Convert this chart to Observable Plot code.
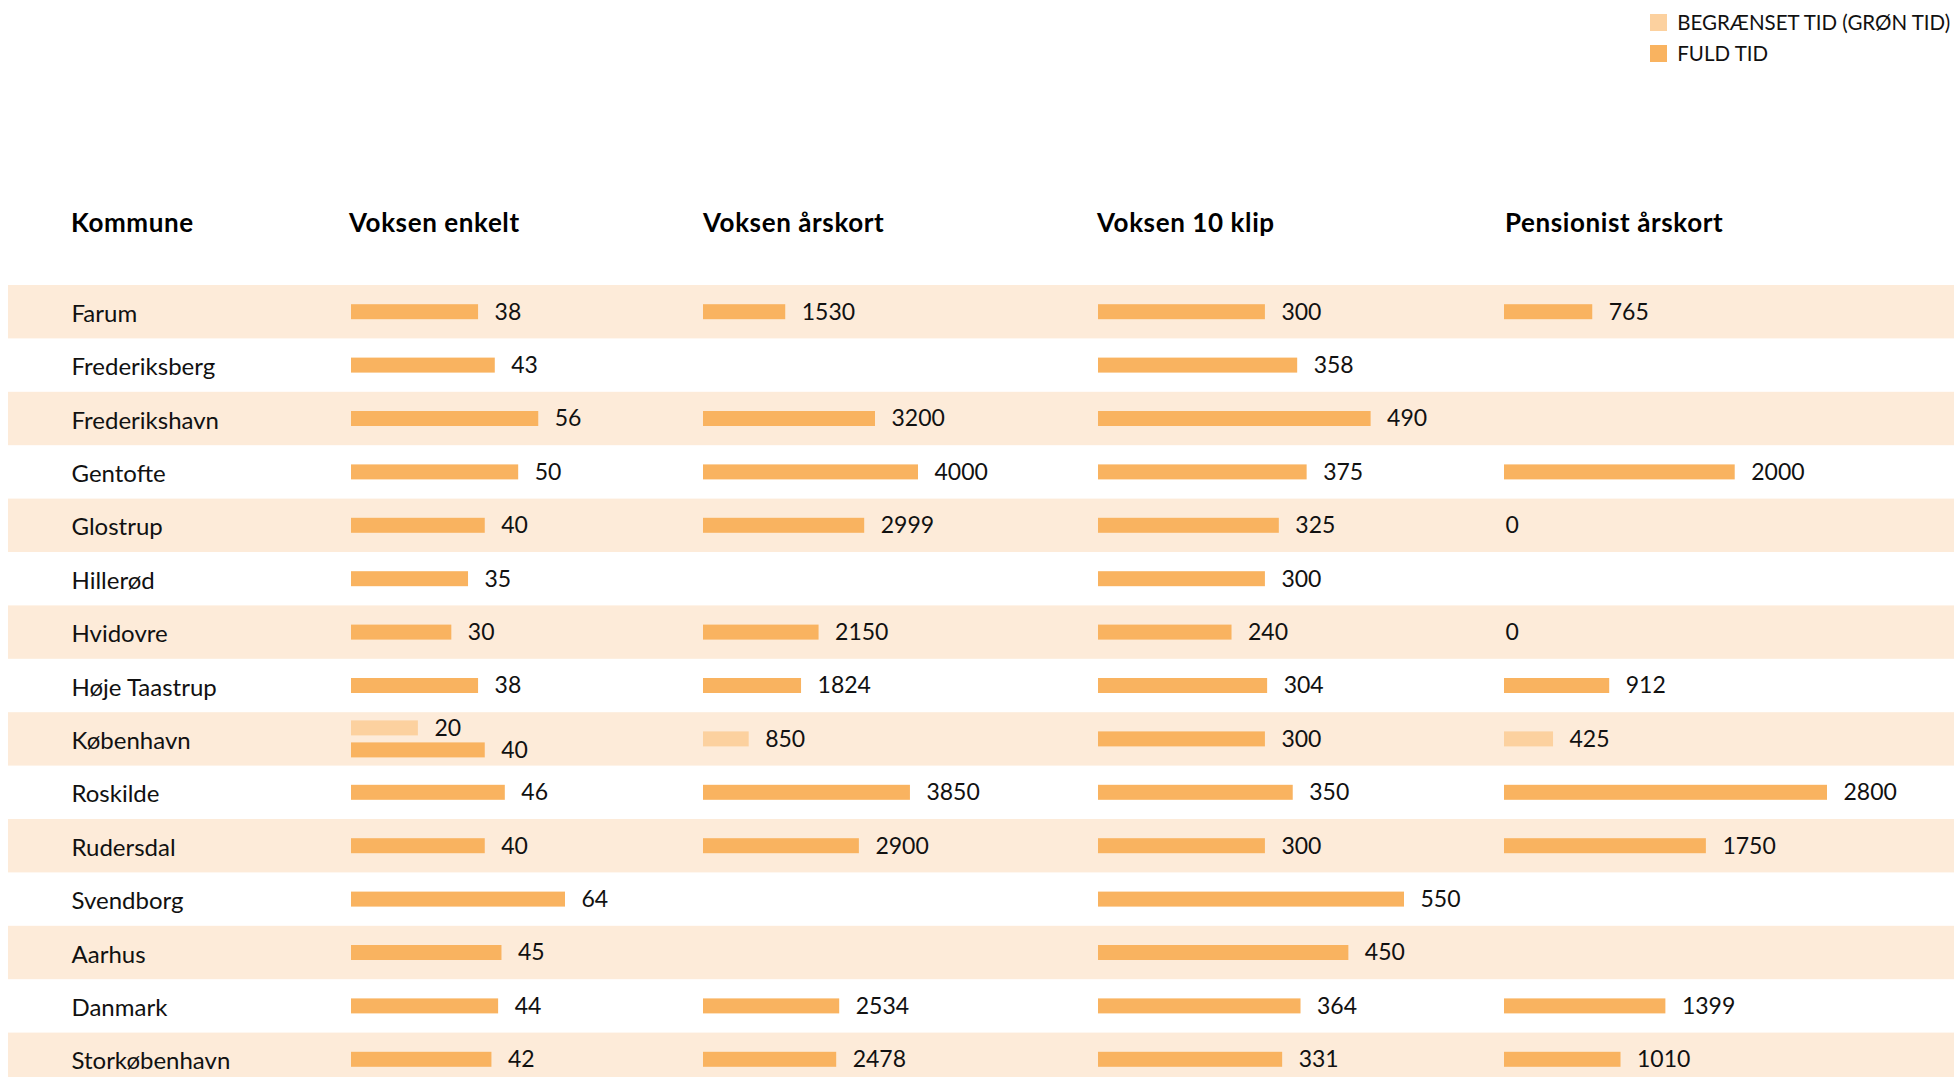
<!DOCTYPE html>
<html><head><meta charset="utf-8">
<script src="https://cdn.jsdelivr.net/npm/d3@7"></script>
<script src="https://cdn.jsdelivr.net/npm/@observablehq/plot@0.6"></script>
<style>
body{margin:0;background:#fff;font-family:Lato,"Open Sans",sans-serif;color:#111}
#root{position:relative;width:1957px;height:1077px;overflow:hidden;background:#fff}
.abs{position:absolute}
.hdr{position:absolute;top:207px;font-weight:700;font-size:26px;line-height:30px;letter-spacing:0.6px;white-space:nowrap;color:#000}
.lg-swatches{font-family:Lato,sans-serif;font-size:20.5px;color:#111}
.lg-swatch{margin-bottom:6px}
</style></head><body><div id="root"></div>
<script>
const kommuner = ["Farum","Frederiksberg","Frederikshavn","Gentofte","Glostrup","Hillerød","Hvidovre","Høje Taastrup","København","Roskilde","Rudersdal","Svendborg","Aarhus","Danmark","Storkøbenhavn"];
const kolonner = ["Voksen enkelt","Voksen årskort","Voksen 10 klip","Pensionist årskort"];
const typer = ["BEGRÆNSET TID (GRØN TID)","FULD TID"];
const farver = ["#FCD19F","#F9B360"];
const baandFarve = "#FDEBD9";

// FULD TID values per column (null = no value)
const voksenEnkeltFuld   = [38,43,56,50,40,35,30,38,40,46,40,64,45,44,42];
const voksenAarskortFuld = [1530,null,3200,4000,2999,null,2150,1824,null,3850,2900,null,null,2534,2478];
const voksen10KlipFuld   = [300,358,490,375,325,300,240,304,300,350,300,550,450,364,331];
const pensionistFuld     = [765,null,null,2000,0,null,0,912,null,2800,1750,null,null,1399,1010];
// BEGRÆNSET TID values per column
const voksenEnkeltBegr   = [null,null,null,null,null,null,null,null,20,null,null,null,null,null,null];
const voksenAarskortBegr = [null,null,null,null,null,null,null,null,850,null,null,null,null,null,null];
const voksen10KlipBegr   = [null,null,null,null,null,null,null,null,null,null,null,null,null,null,null];
const pensionistBegr     = [null,null,null,null,null,null,null,null,425,null,null,null,null,null,null];

const fuld = [voksenEnkeltFuld, voksenAarskortFuld, voksen10KlipFuld, pensionistFuld];
const begr = [voksenEnkeltBegr, voksenAarskortBegr, voksen10KlipBegr, pensionistBegr];

// layout (pixels)
const colLeft = [351, 703, 1098, 1504];
const colMaxBar = [214, 215, 306, 323];
const headerLeft = [349, 703, 1097, 1505];
const rowTop = 285, rowH = 53.4;
const barH = 15;
const inset = (rowH - barH) / 2;
const font = "Lato, 'Open Sans', sans-serif";

const data = [];
kolonner.forEach((k, ci) => {
  kommuner.forEach((m, i) => {
    const vals = [[typer[0], begr[ci][i]], [typer[1], fuld[ci][i]]].filter(v => v[1] != null);
    vals.forEach(([t, v]) => data.push({kommune: m, kolonne: k, type: t, value: v, n: vals.length}));
  });
});

const root = document.getElementById("root");

// background bands + kommune labels
const bg = Plot.plot({
  width: 1957, height: rowH * kommuner.length,
  marginLeft: 8, marginRight: 3, marginTop: 0, marginBottom: 0,
  x: {domain: [0, 1], axis: null},
  y: {domain: kommuner, padding: 0, round: false, axis: null},
  style: {background: "transparent"},
  marks: [
    Plot.barX(kommuner.filter((d, i) => i % 2 === 0), {y: d => d, x1: 0, x2: 1, fill: baandFarve}),
    Plot.text(kommuner, {y: d => d, frameAnchor: "left", dx: 63, dy: 2, textAnchor: "start", text: d => d, fontSize: 24, fontFamily: font, fill: "#111"})
  ]
});
bg.classList.add("abs"); bg.style.left = "0px"; bg.style.top = rowTop + "px";
root.appendChild(bg);

// headers
const hk = document.createElement("div"); hk.className = "hdr"; hk.style.left = "71px"; hk.textContent = "Kommune"; root.appendChild(hk);
kolonner.forEach((k, ci) => {
  const h = document.createElement("div"); h.className = "hdr"; h.style.left = headerLeft[ci] + "px"; h.textContent = k; root.appendChild(h);
});

// column plots
kolonner.forEach((k, ci) => {
  const rows = data.filter(d => d.kolonne === k);
  const xMax = d3.max(rows, d => d.value);
  const single = rows.filter(d => d.n === 1);
  const dblB = rows.filter(d => d.n === 2 && d.type === typer[0]);
  const dblF = rows.filter(d => d.n === 2 && d.type === typer[1]);
  const bar = (arr, dy) => Plot.barX(arr, {y: "kommune", x: "value", fill: "type", insetTop: inset, insetBottom: inset, dy});
  const lbl = (arr, dy) => [
    Plot.text(arr.filter(d => d.value > 0), {y: "kommune", x: "value", text: d => String(d.value), textAnchor: "start", dx: 16, dy, fontSize: 23, fontFamily: font, fill: "#111"}),
    Plot.text(arr.filter(d => d.value === 0), {y: "kommune", x: "value", text: d => String(d.value), textAnchor: "start", dx: 1, dy, fontSize: 23, fontFamily: font, fill: "#111"})
  ];
  const p = Plot.plot({
    width: 440, height: rowH * kommuner.length,
    marginLeft: 0, marginRight: 0, marginTop: 0, marginBottom: 0,
    x: {domain: [0, xMax], range: [0, colMaxBar[ci]], axis: null},
    y: {domain: kommuner, padding: 0, round: false, axis: null},
    color: {domain: typer, range: farver},
    style: {background: "transparent", overflow: "visible"},
    marks: [bar(single, 0), bar(dblB, -11), bar(dblF, 11), ...lbl(single, 0), ...lbl(dblB, -11), ...lbl(dblF, 11)]
  });
  p.classList.add("abs"); p.style.left = colLeft[ci] + "px"; p.style.top = rowTop + "px";
  root.appendChild(p);
});

// legend
const lg = Plot.legend({color: {type: "ordinal", domain: typer, range: farver}, legend: "swatches", columns: 1, swatchSize: 17, className: "lg"});
lg.classList.add("abs"); lg.style.left = "1650px"; lg.style.top = "10px";
root.appendChild(lg);
</script></body></html>
